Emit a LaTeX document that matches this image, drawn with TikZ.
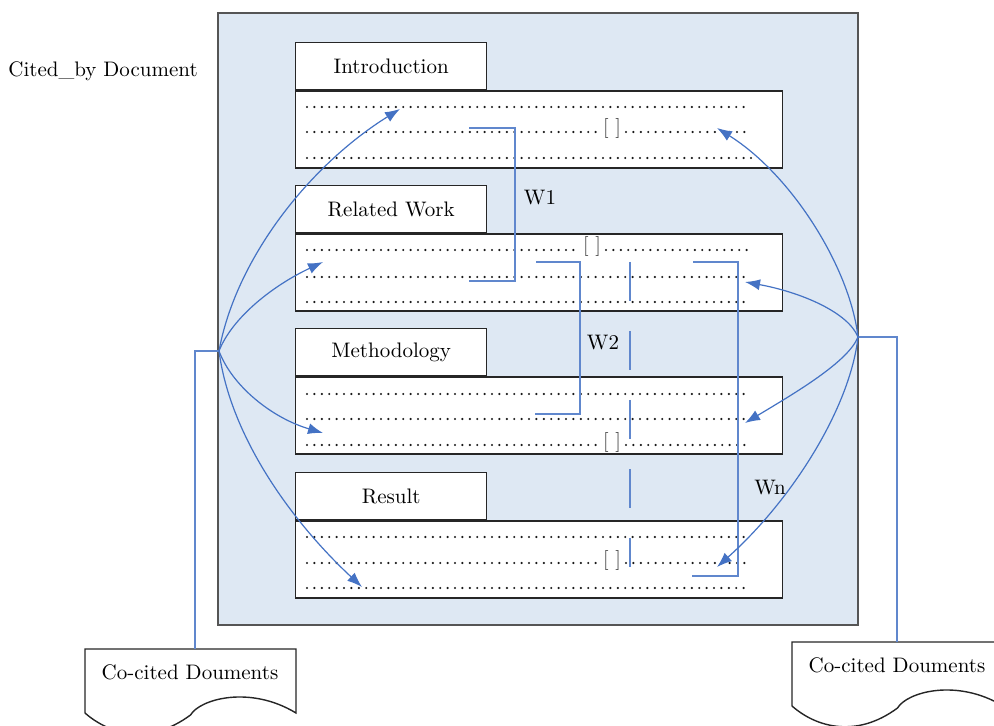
\documentclass[tikz,border=0pt]{standalone}
\usetikzlibrary{arrows.meta}
\definecolor{boxblue}{RGB}{222,232,243}
\definecolor{lineblue}{RGB}{68,114,196}
\definecolor{framegray}{RGB}{85,85,85}
\tikzset{
  tab/.style={draw=black!85, fill=white, line width=0.7pt, minimum width=95.5pt, minimum height=23.5pt, inner sep=0pt, anchor=north west, font=\fontsize{10.5}{12}\selectfont},
  body/.style={draw=black!85, fill=white, line width=0.7pt, minimum width=243.5pt, minimum height=38.5pt, inner sep=0pt, anchor=north west},
  dotrow/.style={black!90, line width=1.2pt, line cap=round, dash pattern=on 0pt off 3.7pt},
  gap/.style={font=\fontsize{10}{12}\selectfont, inner sep=0pt, anchor=base, text=black!75},
  cite/.style={lineblue, line width=0.6pt, -{Latex[length=7.5pt,width=5.5pt]}},
  link/.style={lineblue!85, line width=0.6pt},
  lbl/.style={font=\fontsize{10.5}{12}\selectfont, inner sep=0pt},
  docshape/.style={draw=black!85, fill=white, line width=0.7pt},
}
\begin{document}
\begin{tikzpicture}[x=0.5pt, y=-0.5pt]
  \useasboundingbox (0,0) rectangle (994,726);
  \clip (0,0) rectangle (994,726);
  % Draw the cited_by document frame.
  \draw[framegray, fill=boxblue, line width=0.8pt] (218,13) rectangle (858,625);
  \node[lbl] (citedby) at (103,71) {Cited\_by Document};
  % Draw the sections, a tab with its body below.
  \node[tab] (introtab) at (295,42) {Introduction};
  \node[body] (introbody) at (introtab.south west) {};
  \node[tab] (reltab) at (295,185) {Related Work};
  \node[body] (relbody) at (reltab.south west) {};
  \node[tab] (methtab) at (295,328) {Methodology};
  \node[body] (methbody) at (methtab.south west) {};
  \node[tab] (restab) at (295,472) {Result};
  \node[body] (resbody) at (restab.south west) {};
  % Rows of text in the introduction.
  \draw[dotrow] (307,107) -- (750,107);
  \draw[dotrow] (307,132) -- (598,132);
  \node[gap] (introref) at (612,134) {[ ]};
  \draw[dotrow] (626,132) -- (750,132);
  \draw[dotrow] (307,158) -- (754,158);
  % Rows of text in the related work.
  \draw[dotrow] (307,250) -- (578,250);
  \node[gap] (relref) at (592,252) {[ ]};
  \draw[dotrow] (606,250) -- (752,250);
  \draw[dotrow] (307,277) -- (750,277);
  \draw[dotrow] (307,302) -- (750,302);
  % Rows of text in the methodology.
  \draw[dotrow] (307,394) -- (750,394);
  \draw[dotrow] (307,419) -- (750,419);
  \draw[dotrow] (307,445) -- (598,445);
  \node[gap] (methref) at (612,447) {[ ]};
  \draw[dotrow] (626,445) -- (750,445);
  % Rows of text in the result.
  \draw[dotrow] (307,537) -- (750,537);
  \draw[dotrow] (307,563) -- (598,563);
  \node[gap] (resref) at (612,565) {[ ]};
  \draw[dotrow] (626,563) -- (745,563);
  \draw[dotrow] (307,588) -- (745,588);
  % Draw the windows W1, W2 ... Wn.
  \draw[link] (469,128) -| (515,281) -- (469,281);
  \draw[link] (536,262) -| (580,414) -- (535,414);
  \draw[link] (693,262) -| (738,576) -- (692,576);
  \draw[link, dash pattern=on 19.5pt off 15pt] (630,262) -- (630,567);
  \node[lbl] (w1) at (540,198) {W1};
  \node[lbl] (w2) at (603,343) {W2};
  \node[lbl] (wn) at (770,488) {Wn};
  % Draw the co-cited documents.
  \begin{scope}[shift={(85,649)}]
    \draw[docshape] (0,0) -- (211,0) -- (211,64) .. controls (165,36) and (115,50) .. (105.5,66)
      .. controls (65,96) and (25,86) .. (0,64) -- cycle;
  \end{scope}
  \begin{scope}[shift={(792,642)}]
    \draw[docshape] (0,0) -- (211,0) -- (211,64) .. controls (165,36) and (115,50) .. (105.5,66)
      .. controls (65,96) and (25,86) .. (0,64) -- cycle;
  \end{scope}
  \node[lbl] (docL) at (190,672) {Co-cited Douments};
  \node[lbl] (docR) at (897,665) {Co-cited Douments};
  \coordinate (docLtop) at (195,649);
  \coordinate (docRtop) at (897,642);
  % Draw the citation arrows into the sections.
  \coordinate (citL) at (219,351);
  \coordinate (citR) at (858,337);
  \draw[link] (docLtop) |- (citL);
  \draw[link] (docRtop) |- (citR);
  \coordinate (introL) at (400,109);
  \coordinate (relL) at (323,262);
  \coordinate (methL) at (323,433);
  \coordinate (resL) at (362,587);
  \coordinate (introR) at (717,128);
  \coordinate (relR) at (745,282);
  \coordinate (methR) at (745,423);
  \coordinate (resR) at (717,567);
  \draw[cite] (citL) .. controls (236,258) and (310,165) .. (introL);
  \draw[cite] (citL) .. controls (232,318) and (272,286) .. (relL);
  \draw[cite] (citL) .. controls (232,386) and (272,418) .. (methL);
  \draw[cite] (citL) .. controls (230,435) and (290,520) .. (resL);
  \draw[cite] (citR) .. controls (850,268) and (792,175) .. (introR);
  \draw[cite] (citR) .. controls (848,312) and (800,292) .. (relR);
  \draw[cite] (citR) .. controls (848,362) and (795,393) .. (methR);
  \draw[cite] (citR) .. controls (850,408) and (792,500) .. (resR);
\end{tikzpicture}
\end{document}
